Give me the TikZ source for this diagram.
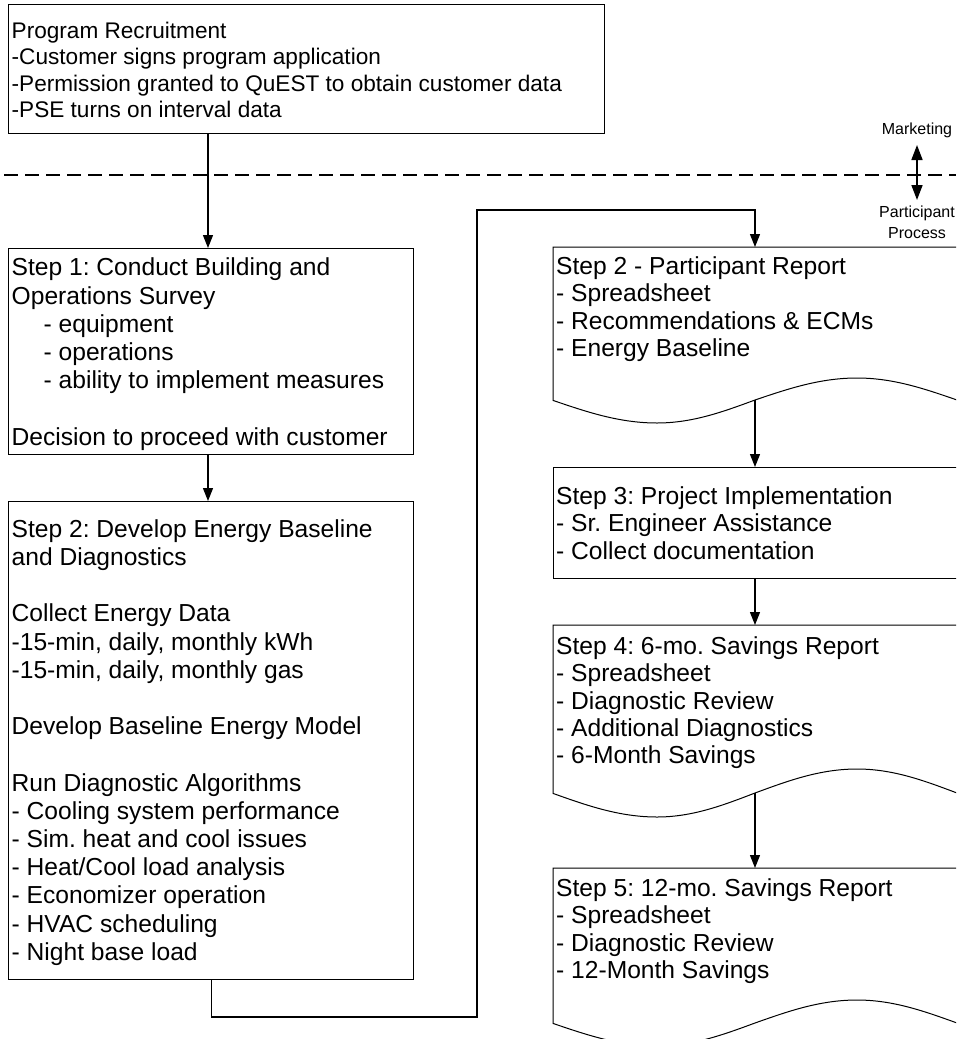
\documentclass[tikz,border=0pt]{standalone}
\usepackage{fontspec}
\setmainfont{Liberation Sans}
\usetikzlibrary{arrows.meta}
\frenchspacing
\begin{document}
\begin{tikzpicture}[x=1pt,y=-1pt,
  box/.style={draw, line width=1.3pt, inner sep=0pt, anchor=north west},
  area/.style={inner sep=0pt, anchor=north west},
  txtT/.style={inner sep=0pt, anchor=north west, align=left, font=\fontsize{22.6}{26.5}\selectfont},
  txtL/.style={inner sep=0pt, anchor=north west, align=left, font=\fontsize{24.6}{28.2}\selectfont},
  txtR/.style={inner sep=0pt, anchor=north west, align=left, font=\fontsize{24.6}{27.4}\selectfont},
  txtS/.style={inner sep=0pt, align=center, font=\fontsize{16}{21}\selectfont},
  arr/.style={line width=1.2pt, -{Triangle[length=13pt,width=10pt]}},
  docline/.style={line width=1pt},
  dashline/.style={line width=2pt, dash pattern=on 14pt off 7pt},
  dblarr/.style={line width=1.6pt, {Triangle[length=15pt,width=11pt]}-{Triangle[length=15pt,width=11pt]}}]
\useasboundingbox (0,0) rectangle (956,1039);
\clip (0,0) rectangle (956,1039);
\fill[white] (0,0) rectangle (956,1039);

% ---- top box
\node[box, minimum width=596pt, minimum height=129pt] (rec) at (8,4) {};
\node[txtT] (rect) at (11.5,18) {\rule{0pt}{20pt}Program Recruitment\\
-Customer signs program application\\
-Permission granted to QuEST to obtain customer data\\
-PSE turns on interval data};

% ---- divider
\coordinate (dl) at (4,175);
\coordinate (dr) at (956,175);
\draw[dashline] (dl) -- (dr);
\node[txtS] (mk) at (917,130) {Marketing};
\node[txtS] (pp) at (917,222) {Participant\\Process};
\coordinate (ma) at (917,145);
\coordinate (mb) at (917,200);
\draw[dblarr] (ma) -- (mb);

% ---- step 1
\node[box, minimum width=405pt, minimum height=206pt] (s1) at (8,248) {};
\node[txtL] (s1t) at (11.5,255.6) {\rule{0pt}{20pt}Step 1: Conduct Building and\\
Operations Survey\\
\hspace*{32pt}- equipment\\
\hspace*{32pt}- operations\\
\hspace*{32pt}- ability to implement measures\\[\baselineskip]
Decision to proceed with customer};

% ---- step 2 (left)
\node[box, minimum width=405pt, minimum height=478pt] (s2) at (8,501) {};
\node[txtL] (s2t) at (11.5,517) {\rule{0pt}{20pt}Step 2: Develop Energy Baseline\\
and Diagnostics\\[\baselineskip]
Collect Energy Data\\
-15-min, daily, monthly kWh\\
-15-min, daily, monthly gas\\[\baselineskip]
Develop Baseline Energy Model\\[\baselineskip]
Run Diagnostic Algorithms\\
- Cooling system performance\\
- Sim. heat and cool issues\\
- Heat/Cool load analysis\\
- Economizer operation\\
- HVAC scheduling\\
- Night base load};

% ---- step 2 participant report (document)
\node[area, minimum width=406pt, minimum height=153pt] (d2) at (553,247) {};
\draw[docline] (d2.south west) -- (d2.north west) -- (d2.north east) -- (d2.south east)
  -- (957,400) sin (857,378) cos (755,400) sin (657,423) cos (d2.south west) -- cycle;
\coordinate (d2b) at (755,400);
\node[txtR] (d2t) at (556,254) {\rule{0pt}{20pt}Step 2 - Participant Report\\
- Spreadsheet\\
- Recommendations \& ECMs\\
- Energy Baseline};

% ---- step 3
\node[box, line width=1.2pt, minimum width=410pt, minimum height=111pt] (s3) at (553,467) {};
\node[txtR] (s3t) at (556,484) {\rule{0pt}{20pt}Step 3: Project Implementation\\
- Sr. Engineer Assistance\\
- Collect documentation};

% ---- step 4 (document)
\node[area, minimum width=406pt, minimum height=168pt] (d4) at (553,625) {};
\draw[docline] (d4.south west) -- (d4.north west) -- (d4.north east) -- (d4.south east)
  -- (957,793) sin (857,769) cos (755,793) sin (657,817) cos (d4.south west) -- cycle;
\coordinate (d4b) at (755,793);
\node[txtR] (d4t) at (556,634) {\rule{0pt}{20pt}Step 4: 6-mo. Savings Report\\
- Spreadsheet\\
- Diagnostic Review\\
- Additional Diagnostics\\
- 6-Month Savings};

% ---- step 5 (document)
\node[area, minimum width=406pt, minimum height=155pt] (d5) at (553,868) {};
\draw[docline] (d5.south west) -- (d5.north west) -- (d5.north east) -- (d5.south east)
  -- (957,1023) sin (857,1000) cos (755,1023) sin (657,1046) cos (d5.south west) -- cycle;
\node[txtR] (d5t) at (556,876) {\rule{0pt}{20pt}Step 5: 12-mo. Savings Report\\
- Spreadsheet\\
- Diagnostic Review\\
- 12-Month Savings};

% ---- connectors
\coordinate (ax) at (208,0);
\coordinate (bx) at (755,0);
\coordinate (j1) at (477,1017);
\coordinate (j2) at (477,210);
\draw[arr] (rec.south -| ax) -- (s1.north -| ax);
\draw[arr] (s1.south -| ax) -- (s2.north -| ax);
\draw[arr] (s2.south) |- (j1) -- (j2) -| (d2.north -| bx);
\draw[arr] (d2b) -- (s3.north -| bx);
\draw[arr] (s3.south -| bx) -- (d4.north -| bx);
\draw[arr] (d4b) -- (d5.north -| bx);
\end{tikzpicture}
\end{document}
